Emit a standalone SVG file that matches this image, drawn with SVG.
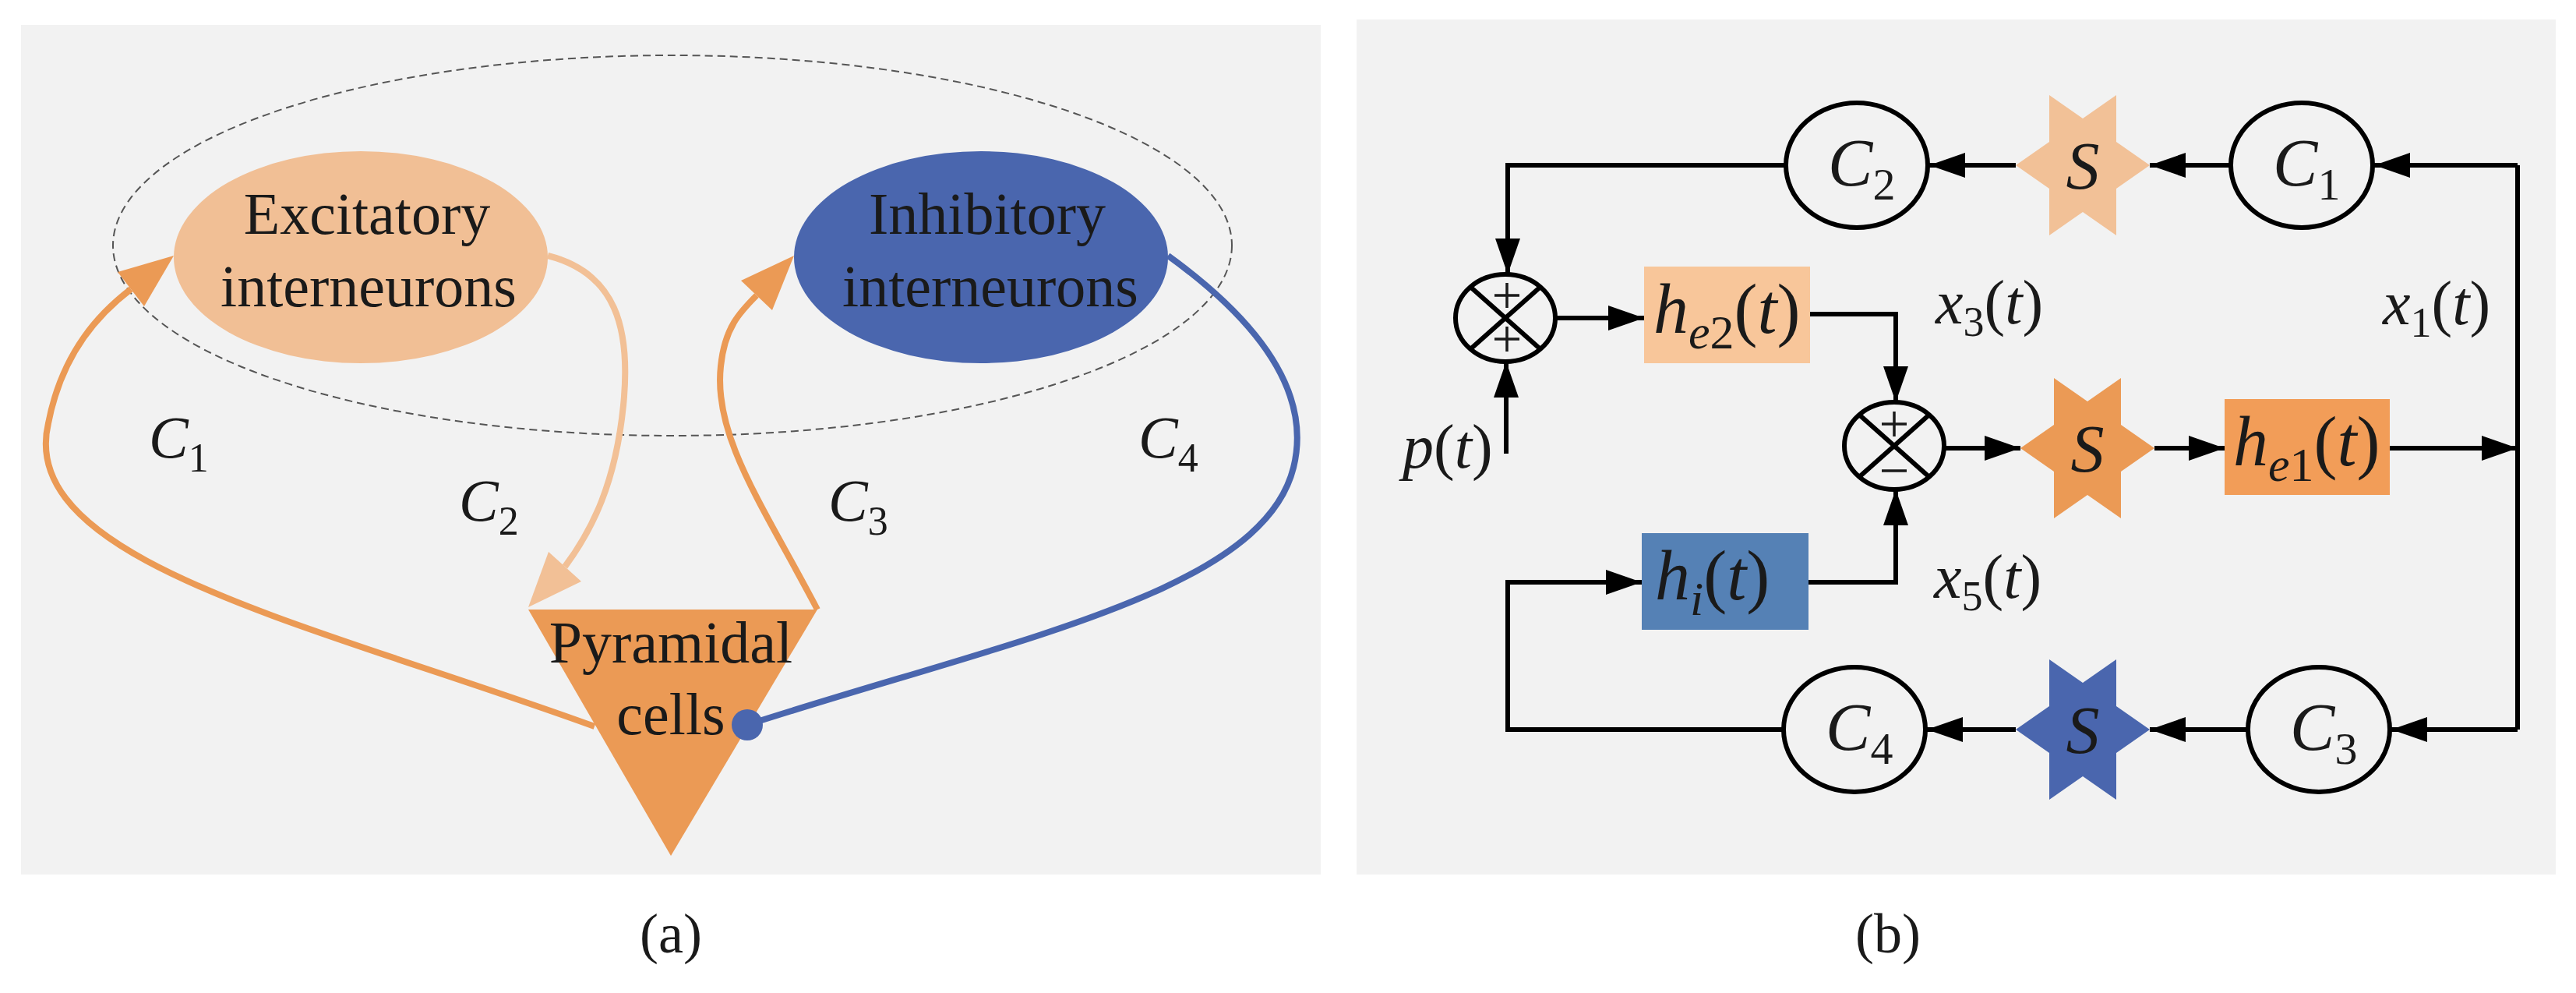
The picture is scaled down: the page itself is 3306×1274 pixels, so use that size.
<svg xmlns="http://www.w3.org/2000/svg" width="3306" height="1274" viewBox="0 0 3306 1274">
<style>
.bg{fill:#F2F2F2}
.t{font-family:"Liberation Serif","Times New Roman",serif;fill:#1a1a1a}
.i{font-style:italic}
.ln{fill:none;stroke:#000;stroke-width:6}
.ring{fill:none;stroke:#000;stroke-width:6}
.ca{fill:none;stroke-width:8}
</style>
<defs>
<marker id="ah" markerUnits="userSpaceOnUse" markerWidth="48" markerHeight="34" refX="46" refY="16" orient="auto"><path d="M0,0 L46,16 L0,32 z" fill="#000"/></marker>
</defs>
<rect class="bg" x="27" y="32" width="1668" height="1090"/>
<rect class="bg" x="1741" y="25" width="1539" height="1097"/>

<!-- Panel (a) -->
<ellipse cx="863" cy="315" rx="718" ry="244" fill="none" stroke="#555" stroke-width="2" stroke-dasharray="10 6"/>
<g id="excitatory">
<ellipse cx="463" cy="330" rx="240" ry="136" fill="#F1BF95"/>
<text class="t" x="471" y="300" font-size="76" text-anchor="middle">Excitatory</text>
<text class="t" x="473" y="393" font-size="76" text-anchor="middle">interneurons</text>
</g>
<g id="inhibitory">
<ellipse cx="1259" cy="330" rx="240" ry="136" fill="#4A66AE"/>
<text class="t" x="1267" y="300" font-size="76" text-anchor="middle">Inhibitory</text>
<text class="t" x="1271" y="393" font-size="76" text-anchor="middle">interneurons</text>
</g>
<g id="pyramidal">
<polygon points="678,782 1049,782 861,1098" fill="#EB9A55"/>
<text class="t" x="861" y="850" font-size="76" text-anchor="middle">Pyramidal</text>
<text class="t" x="861" y="942" font-size="76" text-anchor="middle">cells</text>
</g>
<g id="connectors-a">
<path class="ca" stroke="#EB9A55" d="M763,932 C400,800 20,720 62,543 C80,450 130,400 168,371"/>
<polygon points="223,328 185,393 151,349" fill="#EB9A55"/>
<path class="ca" stroke="#F2C096" d="M703,328 C790,350 810,420 800,520 C790,620 760,680 725,727"/>
<polygon points="678,779 746,746 704,708" fill="#F2C096"/>
<path class="ca" stroke="#EB9A55" d="M1049,782 C980,650 915,560 925,470 C930,420 950,400 971,379"/>
<polygon points="1019,328 991,398 951,360" fill="#EB9A55"/>
<path class="ca" stroke="#4A66AE" d="M1499,328 C1640,430 1680,520 1660,600 C1620,760 1300,820 959,930"/>
<circle cx="959" cy="930" r="20" fill="#4A66AE"/>
</g>
<text class="t i" x="191" y="587" font-size="76">C<tspan font-size="52" font-style="normal" dy="18">1</tspan></text>
<text class="t i" x="589" y="668" font-size="76">C<tspan font-size="52" font-style="normal" dy="18">2</tspan></text>
<text class="t i" x="1063" y="668" font-size="76">C<tspan font-size="52" font-style="normal" dy="18">3</tspan></text>
<text class="t i" x="1461" y="587" font-size="76">C<tspan font-size="52" font-style="normal" dy="18">4</tspan></text>
<text class="t" x="861" y="1222" font-size="72" text-anchor="middle">(a)</text>

<!-- Panel (b) -->
<g id="connectors-b">
<path class="ln" d="M2291,212 H1935 V352" marker-end="url(#ah)"/>
<path class="ln" d="M1933,582 V464" marker-end="url(#ah)"/>
<path class="ln" d="M1996,408 H2110" marker-end="url(#ah)"/>
<path class="ln" d="M2323,403 H2433 V516" marker-end="url(#ah)"/>
<path class="ln" d="M2321,747 H2433 V628" marker-end="url(#ah)"/>
<path class="ln" d="M2495,575 H2593" marker-end="url(#ah)"/>
<path class="ln" d="M2765,575 H2855" marker-end="url(#ah)"/>
<path class="ln" d="M3067,575 H3231" marker-end="url(#ah)"/>
<path class="ln" d="M3231,212 V936"/>
<path class="ln" d="M3231,212 H3047" marker-end="url(#ah)"/>
<path class="ln" d="M3231,936 H3069" marker-end="url(#ah)"/>
<path class="ln" d="M2861,212 H2759" marker-end="url(#ah)"/>
<path class="ln" d="M2587,212 H2476" marker-end="url(#ah)"/>
<path class="ln" d="M2883,936 H2759" marker-end="url(#ah)"/>
<path class="ln" d="M2587,936 H2473" marker-end="url(#ah)"/>
<path class="ln" d="M2287,936 H1935 V747 H2107" marker-end="url(#ah)"/>
</g>
<g id="sum1">
<ellipse class="ring" cx="1932" cy="408" rx="64" ry="56"/>
<path class="ln" d="M1887,368 L1977,448 M1977,368 L1887,448"/>
<path d="M1918,379 H1950 M1934,363 V395 M1918,435 H1950 M1934,419 V451" stroke="#1a1a1a" stroke-width="3.5"/>
</g>
<g id="sum2">
<ellipse class="ring" cx="2431" cy="572" rx="64" ry="56"/>
<path class="ln" d="M2386,532 L2476,612 M2476,532 L2386,612"/>
<path d="M2415,544 H2447 M2431,528 V560 M2415,604 H2447" stroke="#1a1a1a" stroke-width="3.5"/>
</g>
<g id="he2">
<rect x="2110" y="342" width="213" height="124" fill="#F8C69A"/>
<text class="t" x="2122" y="427" font-size="90"><tspan font-style="italic">h</tspan><tspan font-size="62" dy="20"><tspan font-style="italic">e</tspan>2</tspan><tspan dy="-20">(</tspan><tspan font-style="italic">t</tspan>)</text>
</g>
<g id="he1">
<rect x="2855" y="512" width="212" height="123" fill="#F29D58"/>
<text class="t" x="2866" y="597" font-size="90"><tspan font-style="italic">h</tspan><tspan font-size="62" dy="20"><tspan font-style="italic">e</tspan>1</tspan><tspan dy="-20">(</tspan><tspan font-style="italic">t</tspan>)</text>
</g>
<g id="hi">
<rect x="2107" y="684" width="214" height="124" fill="#5581B5"/>
<text class="t" x="2124" y="769" font-size="90"><tspan font-style="italic">h</tspan><tspan font-size="62" font-style="italic" dy="20">i</tspan><tspan dy="-20">(</tspan><tspan font-style="italic">t</tspan>)</text>
</g>
<g id="C2"><ellipse class="ring" cx="2383" cy="212" rx="91" ry="80" fill="#F2F2F2"/><text class="t i" x="2346" y="238" font-size="86">C<tspan font-size="58" font-style="normal" dy="18">2</tspan></text></g>
<g id="C1"><ellipse class="ring" cx="2954" cy="212" rx="91" ry="80" fill="#F2F2F2"/><text class="t i" x="2917" y="238" font-size="86">C<tspan font-size="58" font-style="normal" dy="18">1</tspan></text></g>
<g id="C4"><ellipse class="ring" cx="2380" cy="936" rx="91" ry="80" fill="#F2F2F2"/><text class="t i" x="2343" y="962" font-size="86">C<tspan font-size="58" font-style="normal" dy="18">4</tspan></text></g>
<g id="C3"><ellipse class="ring" cx="2976" cy="936" rx="91" ry="80" fill="#F2F2F2"/><text class="t i" x="2939" y="962" font-size="86">C<tspan font-size="58" font-style="normal" dy="18">3</tspan></text></g>
<g id="S1"><polygon transform="translate(2673,212)" points="86,0 43,-30 43,-90 0,-60 -43,-90 -43,-30 -86,0 -43,30 -43,90 0,60 43,90 43,30" fill="#F2C197"/><text class="t i" x="2673" y="242" font-size="86" text-anchor="middle">S</text></g>
<g id="S2"><polygon transform="translate(2679,575)" points="86,0 43,-30 43,-90 0,-60 -43,-90 -43,-30 -86,0 -43,30 -43,90 0,60 43,90 43,30" fill="#EB9A55"/><text class="t i" x="2679" y="605" font-size="86" text-anchor="middle">S</text></g>
<g id="S3"><polygon transform="translate(2673,936)" points="86,0 43,-30 43,-90 0,-60 -43,-90 -43,-30 -86,0 -43,30 -43,90 0,60 43,90 43,30" fill="#4A66AE"/><text class="t i" x="2673" y="966" font-size="86" text-anchor="middle">S</text></g>
<text class="t" x="1800" y="600" font-size="80"><tspan font-style="italic">p</tspan>(<tspan font-style="italic">t</tspan>)</text>
<text class="t" x="2484" y="415" font-size="80"><tspan font-style="italic">x</tspan><tspan font-size="54" dy="16">3</tspan><tspan dy="-16">(</tspan><tspan font-style="italic">t</tspan>)</text>
<text class="t" x="2482" y="767" font-size="80"><tspan font-style="italic">x</tspan><tspan font-size="54" dy="16">5</tspan><tspan dy="-16">(</tspan><tspan font-style="italic">t</tspan>)</text>
<text class="t" x="3058" y="416" font-size="80"><tspan font-style="italic">x</tspan><tspan font-size="54" dy="16">1</tspan><tspan dy="-16">(</tspan><tspan font-style="italic">t</tspan>)</text>
<text class="t" x="2423" y="1222" font-size="72" text-anchor="middle">(b)</text>
</svg>
